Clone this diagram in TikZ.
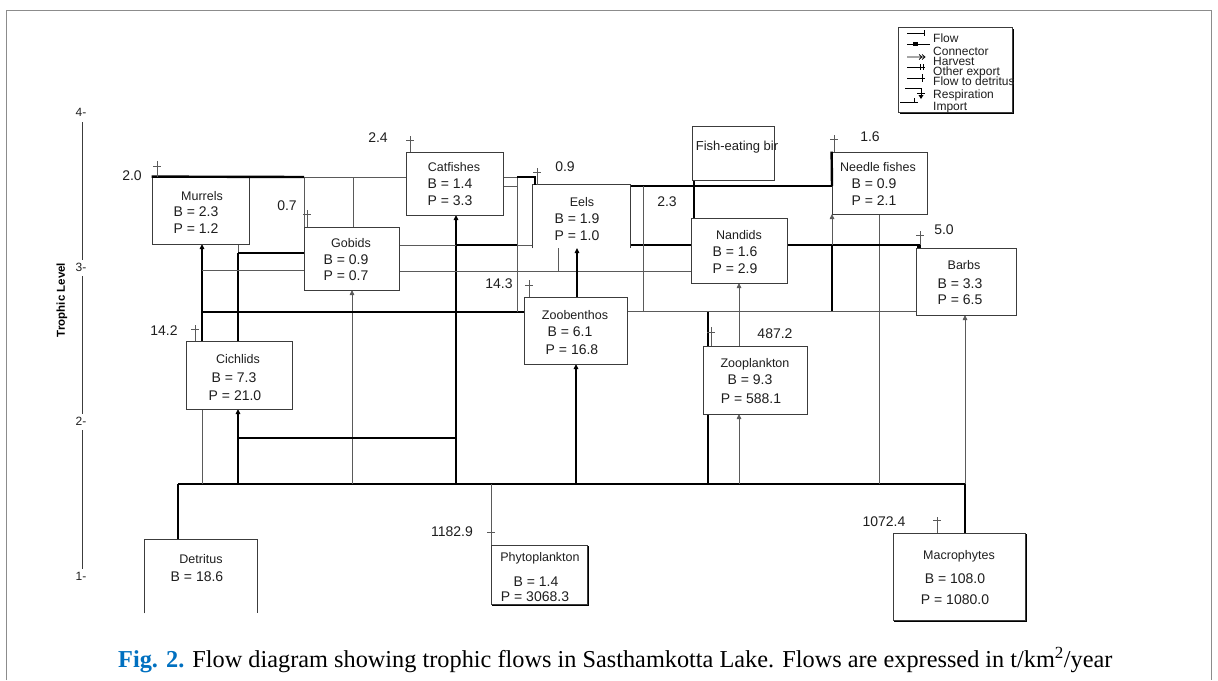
\documentclass[tikz,border=0pt]{standalone}
\usepackage{fontspec}
\setmainfont{Liberation Serif}
\setsansfont{Liberation Sans}
\usetikzlibrary{arrows.meta}
\definecolor{figblue}{RGB}{0,112,192}
\definecolor{lngray}{RGB}{90,90,90}
\definecolor{bxgray}{RGB}{60,60,60}
\definecolor{txgray}{RGB}{30,30,30}
\definecolor{frgray}{RGB}{140,140,140}
\newcommand{\dtick}[4]{\draw[lnA] (#1,#2) -- (#1,#3); \draw[lnA] ({#1-4},#4) -- ({#1+4},#4);}
\begin{document}
\begin{tikzpicture}[x=1pt,y=-1pt,
  box/.style={draw=bxgray,line width=0.8pt,fill=white,inner sep=0pt},
  lnA/.style={draw=lngray,line width=0.8pt},
  lnM/.style={draw=black,line width=1.8pt},
  lnB/.style={draw=black,line width=2.4pt},
  arr/.style={-{Triangle[length=5pt,width=4.5pt]}},
  nm/.style={font=\sffamily\fontsize{12.5}{14}\selectfont,text=txgray,inner sep=0pt,text height=0.72em,text depth=0pt},
  vl/.style={font=\sffamily\fontsize{14}{16}\selectfont,text=txgray,inner sep=0pt,text height=0.72em,text depth=0pt},
  lg/.style={font=\sffamily\fontsize{12}{12}\selectfont,text=txgray,inner sep=0pt,anchor=west,text height=0.72em,text depth=0pt},
  ax/.style={font=\sffamily\fontsize{12}{12}\selectfont,text=txgray,inner sep=0pt,text height=0.72em,text depth=0pt},
]
\useasboundingbox (0,0) rectangle (1218,680);
% frame
\draw[frgray,line width=1pt] (6,680) -- (6,10) -- (1211,10) -- (1211,680);

% axis
\draw[bxgray,line width=0.8pt] (82,122) -- (82,260) (82,276) -- (82,414) (82,430) -- (82,569);
\node[ax] (ax4) at (81,113) {4-};
\node[ax] (ax3) at (81,268) {3-};
\node[ax] (ax2) at (81,422) {2-};
\node[ax] (ax1) at (81,577) {1-};
\node[font=\sffamily\bfseries\fontsize{11.5}{12}\selectfont,rotate=90,inner sep=0pt,text=black] (tl) at (62,300) {Trophic Level};

% trunk coordinates
\coordinate (tA) at (178,484);
\coordinate (t202) at (202,484);
\coordinate (t238) at (238,484);
\coordinate (t352) at (352,484);
\coordinate (t456) at (456,484);
\coordinate (t491) at (491,484);
\coordinate (t576) at (576,484);
\coordinate (t708) at (708,484);
\coordinate (t739) at (739,484);
\coordinate (t879) at (879,484);
\coordinate (t965) at (965,484);

% ---- connectors ----
\draw[lnM] (tA) -- (t456);
\draw[lnB] (t456) -- (t879);
\draw[lnM] (t879) -- (t965);
\draw[lnB] (178,540) -- (tA);
\draw[lnB] (965,533) -- (t965);
\draw[lnA] (491,545) -- (t491);
\draw[lnA] (t202) -- (202,409);
\draw[lnB,arr] (t238) -- (238,409);
\draw[lnA,arr] (t352) -- (352,290);
\draw[lnB,arr] (t456) -- (456,215);
\draw[lnB,arr] (t576) -- (576,364);
\draw[lnB] (t708) -- (708,311);
\draw[lnA,arr] (t739) -- (739,414);
\draw[lnA] (t879) -- (879,214);
\draw[lnA,arr] (t965) -- (965,315);
\draw[lnB] (238,438) -- (456,438);

\draw[lnB,arr] (202,341) -- (202,244);
\draw[lnB] (238,341) -- (238,253);
\draw[lnA] (238,253) -- (238,244);
\draw[lnB] (238,253) -- (304,253);
\draw[lnA] (202,270) -- (304,270);
\draw[lnB] (202,312) -- (524,312);

\draw[lnA] (304,177) -- (406,177);
\draw[lnA] (304,177) -- (304,227);
\draw[lnA] (353,177) -- (353,227);
\draw[lnA] (503,177) -- (517,177);
\draw[lnA] (503,186) -- (517,186);
\draw[lnA] (517,177) -- (517,312);

\draw[lnA] (399,245) -- (456,245);
\draw[lnB] (456,245) -- (517,245);
\draw[lnA] (517,245) -- (533,245);
\draw[lnA] (399,271) -- (691,271);

\draw[lnA] (558,248) -- (558,271);
\draw[lnB,arr] (577,297) -- (577,248);
\draw[lnB] (630,186) -- (694,186);
\draw[lnM] (694,186) -- (832,186);
\draw[lnB] (631,245) -- (691,245);
\draw[lnA] (643,186) -- (643,311);
\draw[lnB] (694,180) -- (694,218);

\draw[lnB] (787,245) -- (918,245) -- (918,248);
\fill[black] (916.5,243.5) rectangle (920.5,247.5);
\draw[lnA,arr] (832,245) -- (832,214);
\draw[lnB] (832,245) -- (832,311);
\draw[lnA] (627,311) -- (916,311);
\draw[lnA,arr] (739,346) -- (739,283);

% ---- boxes ----
\node[box,minimum width=97pt,minimum height=67pt] (mur) at (200.5,210.5) {};
\node[box,minimum width=97pt,minimum height=63pt] (cat) at (454.5,183.5) {};
\node[box,minimum width=95pt,minimum height=63pt] (gob) at (351.5,258.5) {};
\node[box,draw=none,minimum width=97pt,minimum height=63pt] (eel) at (581.5,216.5) {};
\draw[bxgray,line width=0.8pt] (eel.south west) -- (eel.north west) -- (eel.north east) -- (eel.south east);
\node[box,minimum width=82pt,minimum height=54pt] (feb) at (733,153) {};
\node[box,minimum width=95pt,minimum height=62pt] (ndl) at (879.5,183) {};
\node[box,minimum width=96pt,minimum height=65pt] (nan) at (739,250.5) {};
\node[box,minimum width=100pt,minimum height=67pt] (bar) at (966,281.5) {};
\node[box,minimum width=106pt,minimum height=68pt] (cic) at (239,375) {};
\node[box,minimum width=103pt,minimum height=67pt] (zbe) at (575.5,330.5) {};
\node[box,minimum width=104pt,minimum height=68pt] (zpl) at (755,380) {};
\node[box,draw=none,minimum width=112pt,minimum height=73pt] (det) at (201,576.5) {};
\draw[bxgray,line width=0.8pt] (det.south west) -- (det.north west) -- (det.north east) -- (det.south east);
\draw[black,line width=1.4pt] (588,546) -- (588,605) -- (492,605);
\node[box,minimum width=96pt,minimum height=59pt] (phy) at (539,574.5) {};
\draw[black,line width=1.4pt] (1026,534) -- (1026,621) -- (894,621);
\node[box,minimum width=132pt,minimum height=87pt] (mac) at (959,576.5) {};

% overlays along box edges
\draw[lnB] (mur.north west) -- (304,177);
\draw[lnB] (517,177) -- (535,177) -- (535,185);
\draw[lnB] (832,186) -- (ndl.north west);

% ---- box texts ----
\node[nm] (murA) at (202,197) {Murrels};
\node[vl] (murB) at (196,213) {B = 2.3};
\node[vl] (murC) at (196,230) {P = 1.2};
\node[nm] (catA) at (454,168) {Catfishes};
\node[vl] (catB) at (450,185) {B = 1.4};
\node[vl] (catC) at (450,202) {P = 3.3};
\node[nm] (gobA) at (351,244) {Gobids};
\node[vl] (gobB) at (346,261) {B = 0.9};
\node[vl] (gobC) at (346,277) {P = 0.7};
\node[nm] (eelA) at (582,203) {Eels};
\node[vl] (eelB) at (577,220) {B = 1.9};
\node[vl] (eelC) at (577,237) {P = 1.0};
\node[nm,font=\sffamily\fontsize{13}{14}\selectfont] (febA) at (737,147) {Fish-eating bir};
\node[nm] (ndlA) at (878,168) {Needle fishes};
\node[vl] (ndlB) at (874,185) {B = 0.9};
\node[vl] (ndlC) at (874,202) {P = 2.1};
\node[nm] (nanA) at (739,236) {Nandids};
\node[vl] (nanB) at (735,253) {B = 1.6};
\node[vl] (nanC) at (735,270) {P = 2.9};
\node[nm] (barA) at (964,266) {Barbs};
\node[vl] (barB) at (960,285) {B = 3.3};
\node[vl] (barC) at (960,301) {P = 6.5};
\node[nm] (cicA) at (238,360) {Cichlids};
\node[vl] (cicB) at (234,379) {B = 7.3};
\node[vl] (cicC) at (235,397) {P = 21.0};
\node[nm] (zbeA) at (575,316) {Zoobenthos};
\node[vl] (zbeB) at (570,333) {B = 6.1};
\node[vl] (zbeC) at (572,351) {P = 16.8};
\node[nm] (zplA) at (755,364) {Zooplankton};
\node[vl] (zplB) at (750,381) {B = 9.3};
\node[vl] (zplC) at (751,400) {P = 588.1};
\node[nm] (detA) at (201,560) {Detritus};
\node[vl] (detB) at (197,578) {B = 18.6};
\node[nm] (phyA) at (540,558) {Phytoplankton};
\node[vl] (phyB) at (536,583) {B = 1.4};
\node[vl] (phyC) at (535,598) {P = 3068.3};
\node[nm] (macA) at (959,556) {Macrophytes};
\node[vl] (macB) at (955,580) {B = 108.0};
\node[vl] (macC) at (955,601) {P = 1080.0};

% ---- flow to detritus ticks and labels ----
\dtick{157}{161}{177}{166}
\dtick{410}{136}{152}{140}
\dtick{307}{210}{227}{214}
\dtick{537}{168}{185}{172}
\dtick{834}{135}{152}{139}
\dtick{920}{231}{245}{235}
\dtick{195}{325}{341}{329}
\dtick{529}{280}{297}{285}
\dtick{711}{327}{346}{332}
\dtick{937}{517}{533}{520}
\draw[lnA] (487,532) -- (495,532);

\node[vl] (l1) at (132,177) {2.0};
\node[vl] (l2) at (378,139) {2.4};
\node[vl] (l3) at (287,207) {0.7};
\node[vl] (l4) at (565,168) {0.9};
\node[vl] (l5) at (667,203) {2.3};
\node[vl] (l6) at (870,138) {1.6};
\node[vl] (l7) at (944,231) {5.0};
\node[vl] (l8) at (164,332) {14.2};
\node[vl] (l9) at (499,285) {14.3};
\node[vl] (l10) at (775,335) {487.2};
\node[vl] (l11) at (452,533) {1182.9};
\node[vl] (l12) at (884,523) {1072.4};

% ---- legend ----
\draw[black,line width=1.6pt] (1013.5,29) -- (1013.5,113.5) -- (900,113.5);
\node[box,minimum width=114pt,minimum height=85pt] (leg) at (955,69.5) {};
\draw[black,line width=0.7pt] (907,33) -- (925,33) (924.5,30) -- (924.5,36);
\draw[black,line width=0.7pt] (907,44) -- (930,44);
\fill[black] (913,42) rectangle (918,46);
\draw[black,line width=0.7pt] (907,57) -- (925,57) (919,54.5) -- (922,57) -- (919,59.5) (922,54.5) -- (925,57) -- (922,59.5);
\draw[black,line width=0.7pt] (907,67) -- (925,67) (920,64) -- (920,70) (923,64) -- (923,70);
\draw[black,line width=0.7pt] (907,78) -- (925,78) (922,74) -- (922,82);
\draw[black,line width=0.7pt] (905,88) -- (921,88) -- (921,97) (917,93) -- (925,93);
\fill[black] (918.5,95) -- (923.5,95) -- (921,99) -- cycle;
\draw[black,line width=0.7pt] (900,102) -- (918,102) (914,98) -- (914,102);
\node[lg] (lg1) at (933,39) {Flow};
\node[lg] (lg2) at (933,52) {Connector};
\node[lg] (lg3) at (933,62) {Harvest};
\node[lg] (lg4) at (933,72) {Other export};
\node[lg] (lg5) at (933,82) {Flow to detritus};
\node[lg] (lg6) at (933,95) {Respiration};
\node[lg] (lg7) at (933,107) {Import};

% ---- caption ----
\node[anchor=west,inner sep=0pt,font=\fontsize{24.3}{26}\selectfont] (cap) at (118,660) {\textcolor{figblue}{\bfseries Fig. 2.} Flow diagram showing trophic flows in Sasthamkotta Lake. Flows are expressed in t/km\textsuperscript{2}/year};
\end{tikzpicture}
\end{document}
